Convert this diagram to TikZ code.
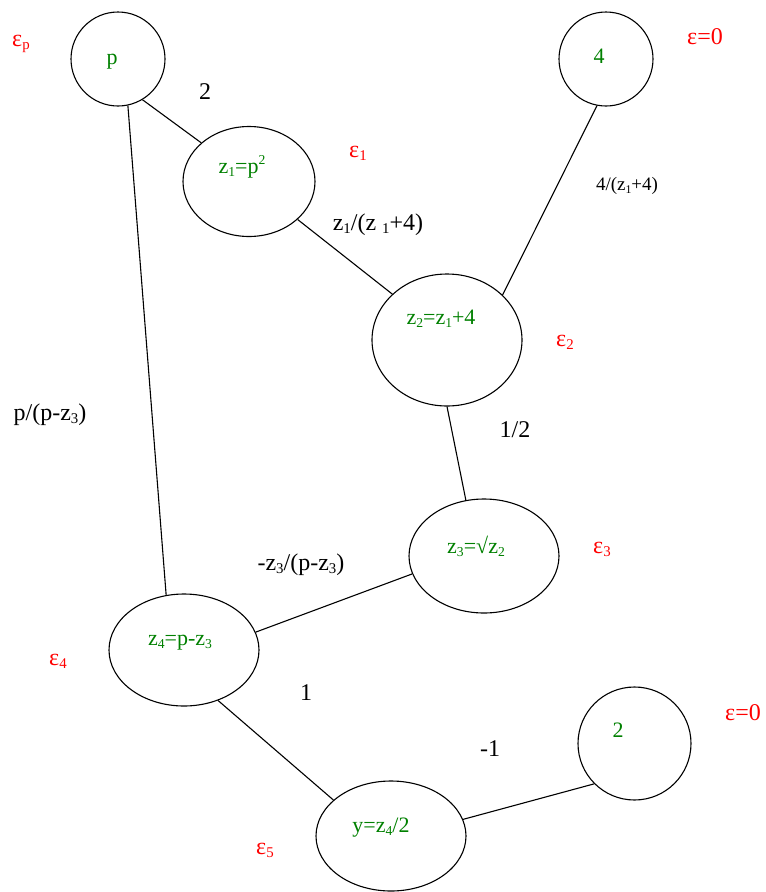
\documentclass[tikz,border=0pt]{standalone}
\usepackage{fontspec}
\setmainfont{Liberation Serif}
\usetikzlibrary{shapes.geometric}
\definecolor{gr}{RGB}{0,128,0}
\definecolor{rd}{RGB}{255,0,0}
\newcommand{\dn}[1]{\raisebox{-0.35ex}{\scalebox{0.62}{#1}}}
\newcommand{\up}[1]{\raisebox{0.85ex}{\scalebox{0.62}{#1}}}
\begin{document}
\begin{tikzpicture}[x=1pt,y=-1pt,
  vtx/.style={draw, ellipse, inner sep=0pt, line width=1.1pt},
  vlab/.style={text=gr, anchor=base, inner sep=0pt, font=\fontsize{22}{26}\selectfont},
  elab/.style={text=black, anchor=base, inner sep=0pt, font=\fontsize{24}{28}\selectfont},
  slab/.style={text=black, anchor=base, inner sep=0pt, font=\fontsize{19}{22}\selectfont},
  eps/.style={text=rd, anchor=base, inner sep=0pt, font=\fontsize{24}{28}\selectfont},
  conn/.style={line width=1.1pt}]
\useasboundingbox (0,0) rectangle (766,892);

% vertices
\node[vtx, minimum width=94pt, minimum height=94pt] (p) at (118,59) {};
\node[vtx, minimum width=132pt, minimum height=110pt] (z1) at (249,181.5) {};
\node[vtx, minimum width=94pt, minimum height=94pt] (four) at (606,59) {};
\node[vtx, minimum width=150pt, minimum height=132pt] (z2) at (447,340) {};
\node[vtx, minimum width=150pt, minimum height=114pt] (z3) at (484,556) {};
\node[vtx, minimum width=150pt, minimum height=112pt] (z4) at (184,650) {};
\node[vtx, minimum width=150pt, minimum height=110pt] (y) at (391,836) {};
\node[vtx, minimum width=113pt, minimum height=113pt] (two) at (634.5,743.5) {};

% vertex texts
\node[vlab] (tp) at (112,64) {p};
\node[vlab] (tfour) at (599,63) {4};
\node[vlab] (tz1) at (242,173) {z\dn{1}=p\up{2}};
\node[vlab] (tz2) at (441,324) {z\dn{2}=z\dn{1}+4};
\node[vlab] (tz3) at (476,553) {z\dn{3}=√z\dn{2}};
\node[vlab] (tz4) at (180,645) {z\dn{4}=p-z\dn{3}};
\node[vlab] (ty) at (381,832) {y=z\dn{4}/2};
\node[vlab] (ttwo) at (618,737) {2};

% connectors
\draw[conn] (p.-59) -- (z1.141);
\draw[conn] (p.-78) -- (z4.108);
\draw[conn] (z1.-38) -- (z2.140);
\draw[conn] (four.-101) -- (z2.39);
\draw[conn] (z2.-90) -- (z3.108);
\draw[conn] (z3.194) -- (z4.14);
\draw[conn] (z4.-56) -- (y.148);
\draw[conn] (y.13) -- (two.225);

% edge labels
\node[elab] (l1) at (205,99) {2};
\node[elab] (l2) at (378,230) {z\dn{1}/(z \dn{1}+4)};
\node[slab] (l3) at (627,190) {4/(z\dn{1}+4)};
\node[elab] (l4) at (515,437) {1/2};
\node[elab] (l5) at (50,420) {p/(p-z\dn{3})};
\node[elab] (l6) at (301,570) {-z\dn{3}/(p-z\dn{3})};
\node[elab] (l7) at (306,700) {1};
\node[elab] (l8) at (490,756) {-1};

% epsilon labels
\node[eps] (ep) at (21,46) {ε\dn{p}};
\node[eps] (e1) at (358,157) {ε\dn{1}};
\node[eps] (e0a) at (705,44) {ε=0};
\node[eps] (e2) at (565,346) {ε\dn{2}};
\node[eps] (e3) at (602,553) {ε\dn{3}};
\node[eps] (e4) at (58,665) {ε\dn{4}};
\node[eps] (e5) at (265,854) {ε\dn{5}};
\node[eps] (e0b) at (743,720) {ε=0};
\end{tikzpicture}
\end{document}
